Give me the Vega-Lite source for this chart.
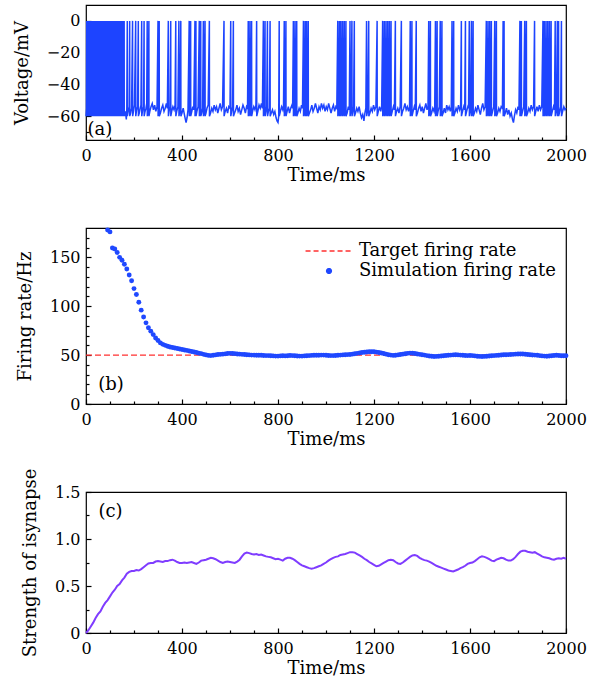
{
"$schema": "https://vega.github.io/schema/vega-lite/v6.json",
"padding": {"left": 12, "top": 4, "right": 5, "bottom": 5},
"bounds": "flush",
"spacing": 88,
"config": {
  "font": "DejaVu Serif",
  "view": {"stroke": "black", "strokeWidth": 1.2},
  "axis": {"grid": false, "domain": false, "labelFlush": false, "tickColor": "black", "tickWidth": 1.2, "labelFont": "DejaVu Serif", "labelFontSize": 16, "labelColor": "black", "titleFont": "DejaVu Serif", "titleFontSize": 18, "titleFontWeight": "normal", "titleColor": "black"},
  "axisX": {"labelPadding": 12, "titlePadding": 3},
  "axisY": {"labelPadding": 11, "titlePadding": 15},
  "text": {"font": "DejaVu Serif", "fontSize": 18, "color": "black"}
},
"datasets": {
"volt": [
{"t":0,"v":-60},{"t":2,"v":-55},{"t":3,"v":0},{"t":3.4,"v":-60},{"t":8,"v":-54},{"t":9,"v":0},{"t":9.4,"v":-60},{"t":14,"v":-55},{"t":15,"v":0},{"t":15.4,"v":-60},{"t":20,"v":-53},{"t":21,"v":0},{"t":21.4,"v":-60},{"t":26,"v":-55},{"t":27,"v":0},{"t":27.4,"v":-60},{"t":32,"v":-54},{"t":33,"v":0},{"t":33.4,"v":-60},{"t":38,"v":-56},{"t":39,"v":0},{"t":39.4,"v":-60},{"t":44,"v":-54},{"t":45,"v":0},{"t":45.4,"v":-60},{"t":50,"v":-55},{"t":51,"v":0},{"t":51.4,"v":-60},{"t":56,"v":-53},{"t":57,"v":0},{"t":57.4,"v":-60},{"t":62,"v":-55},{"t":63,"v":0},{"t":63.4,"v":-60},{"t":68,"v":-54},{"t":69,"v":0},{"t":69.4,"v":-60},{"t":74,"v":-56},{"t":75,"v":0},{"t":75.4,"v":-60},{"t":80,"v":-54},{"t":81,"v":0},{"t":81.4,"v":-60},{"t":86,"v":-55},{"t":87,"v":0},{"t":87.4,"v":-60},{"t":92,"v":-53},{"t":93,"v":0},{"t":93.4,"v":-60},{"t":98,"v":-55},{"t":99,"v":0},{"t":99.4,"v":-60},{"t":104,"v":-54},{"t":105,"v":0},{"t":105.4,"v":-60},{"t":110,"v":-56},{"t":111,"v":0},{"t":111.4,"v":-60},{"t":116,"v":-54},{"t":117,"v":0},{"t":117.4,"v":-60},{"t":122,"v":-55},{"t":123,"v":0},{"t":123.4,"v":-60},{"t":128,"v":-53},{"t":129,"v":0},{"t":129.4,"v":-60},{"t":134,"v":-55},{"t":135,"v":0},{"t":135.4,"v":-60},{"t":140,"v":-54},{"t":141,"v":0},{"t":141.4,"v":-60},{"t":146,"v":-56},{"t":147,"v":0},{"t":147.4,"v":-60},{"t":152,"v":-54},{"t":153,"v":0},{"t":153.4,"v":-60},{"t":158,"v":-55},{"t":159,"v":0},{"t":159.4,"v":-60},
{"t":164,"v":-57},{"t":168,"v":-62},{"t":170,"v":-55},{"t":172,"v":0},{"t":172.4,"v":-60},{"t":176,"v":-57},{"t":180,"v":-54},{"t":182,"v":0},{"t":182.4,"v":-60},{"t":186,"v":-58},{"t":190,"v":-55},{"t":194,"v":0},{"t":194.4,"v":-60},{"t":198,"v":-57},{"t":202,"v":-53},{"t":207,"v":0},{"t":207.4,"v":-60},{"t":211,"v":-56},{"t":215,"v":-54},{"t":218,"v":0},{"t":218.4,"v":-60},{"t":222,"v":-58},{"t":226,"v":-55},{"t":229,"v":-53},{"t":232,"v":0},{"t":232.4,"v":-60},{"t":236,"v":-56},{"t":240,"v":-54},{"t":242,"v":0},{"t":242.4,"v":-60},{"t":246,"v":-57},{"t":250,"v":-55},{"t":253,"v":-52},{"t":255,"v":0},{"t":255.4,"v":-60},{"t":259,"v":-55},{"t":262,"v":0},{"t":262.4,"v":-60},
{"t":266,"v":-57},{"t":271,"v":-54},{"t":276,"v":-52},{"t":281,"v":-56},{"t":286,"v":-53},{"t":291,"v":-57},{"t":296,"v":-54},{"t":300,"v":0},{"t":300.4,"v":-60},{"t":303,"v":-56},{"t":305,"v":0},{"t":305.4,"v":-60},{"t":310,"v":-58},{"t":315,"v":-55},{"t":320,"v":-53},{"t":325,"v":-57},{"t":330,"v":-55},{"t":335,"v":-52},{"t":339,"v":-55},{"t":343,"v":0},{"t":343.4,"v":-60},{"t":347,"v":-56},{"t":350,"v":-54},{"t":353,"v":0},{"t":353.4,"v":-60},{"t":357,"v":-57},{"t":362,"v":-54},{"t":367,"v":-56},{"t":371,"v":-53},{"t":374,"v":0},{"t":374.4,"v":-60},{"t":378,"v":-57},{"t":383,"v":-54},{"t":387,"v":0},{"t":387.4,"v":-60},{"t":391,"v":-56},{"t":395,"v":0},{"t":395.4,"v":-60},
{"t":400,"v":-58},{"t":405,"v":-55},{"t":410,"v":-59},{"t":414,"v":-62},{"t":417,"v":-64},{"t":421,"v":-61},{"t":425,"v":-56},{"t":430,"v":0},{"t":430.4,"v":-60},{"t":433,"v":-56},{"t":436,"v":0},{"t":436.4,"v":-60},{"t":441,"v":-57},{"t":445,"v":-54},{"t":449,"v":-56},{"t":454,"v":0},{"t":454.4,"v":-60},{"t":456,"v":-56},{"t":458,"v":0},{"t":458.4,"v":-60},{"t":462,"v":-57},{"t":467,"v":-54},{"t":472,"v":0},{"t":472.4,"v":-60},{"t":475,"v":-56},{"t":478,"v":0},{"t":478.4,"v":-60},{"t":482,"v":-58},{"t":486,"v":-55},{"t":489,"v":0},{"t":489.4,"v":-60},{"t":492,"v":-56},{"t":496,"v":0},{"t":496.4,"v":-60},{"t":500,"v":-58},{"t":504,"v":-55},{"t":509,"v":-53},{"t":514,"v":0},{"t":514.4,"v":-60},
{"t":519,"v":-58},{"t":524,"v":-55},{"t":529,"v":-57},{"t":534,"v":-53},{"t":539,"v":-56},{"t":544,"v":-54},{"t":549,"v":-58},{"t":554,"v":-55},{"t":559,"v":-52},{"t":564,"v":-56},{"t":569,"v":-54},{"t":575,"v":0},{"t":575.4,"v":-60},{"t":580,"v":-57},{"t":585,"v":-55},{"t":590,"v":-58},{"t":595,"v":-54},{"t":600,"v":-55},{"t":603,"v":0},{"t":603.4,"v":-60},{"t":607,"v":-57},{"t":611,"v":-54},{"t":614,"v":0},{"t":614.4,"v":-60},
{"t":619,"v":-58},{"t":624,"v":-56},{"t":629,"v":-53},{"t":634,"v":-57},{"t":639,"v":-55},{"t":644,"v":-59},{"t":649,"v":-56},{"t":654,"v":-53},{"t":659,"v":-55},{"t":664,"v":-58},{"t":669,"v":-54},{"t":673,"v":-55},{"t":676,"v":0},{"t":676.4,"v":-60},{"t":680,"v":-56},{"t":683,"v":0},{"t":683.4,"v":-60},{"t":687,"v":-56},{"t":690,"v":0},{"t":690.4,"v":-60},{"t":694,"v":-57},{"t":699,"v":-54},{"t":704,"v":-56},{"t":708,"v":-53},{"t":711,"v":0},{"t":711.4,"v":-60},{"t":716,"v":-57},{"t":721,"v":-53},{"t":726,"v":-55},{"t":731,"v":-52},{"t":735,"v":-55},{"t":739,"v":0},{"t":739.4,"v":-60},{"t":743,"v":-56},{"t":746,"v":0},{"t":746.4,"v":-60},{"t":750,"v":-57},{"t":753,"v":-54},{"t":756,"v":0},{"t":756.4,"v":-60},{"t":760,"v":-57},{"t":764,"v":-55},{"t":767,"v":0},{"t":767.4,"v":-60},
{"t":772,"v":-58},{"t":777,"v":-56},{"t":782,"v":-59},{"t":787,"v":-57},{"t":792,"v":-61},{"t":796,"v":-63},{"t":800,"v":-64},{"t":803,"v":-60},{"t":805,"v":0},{"t":805.4,"v":-60},{"t":810,"v":-57},{"t":815,"v":-54},{"t":820,"v":-56},{"t":823,"v":-53},{"t":826,"v":0},{"t":826.4,"v":-60},{"t":830,"v":-56},{"t":833,"v":0},{"t":833.4,"v":-60},{"t":838,"v":-57},{"t":843,"v":-54},{"t":848,"v":-58},{"t":853,"v":-55},{"t":858,"v":-53},{"t":861,"v":-55},{"t":864,"v":0},{"t":864.4,"v":-60},{"t":868,"v":-56},{"t":871,"v":0},{"t":871.4,"v":-60},{"t":875,"v":-56},{"t":878,"v":0},{"t":878.4,"v":-60},{"t":883,"v":-58},{"t":888,"v":-55},{"t":893,"v":-57},{"t":898,"v":-53},{"t":902,"v":-55},{"t":906,"v":0},{"t":906.4,"v":-60},{"t":910,"v":-56},{"t":913,"v":0},{"t":913.4,"v":-60},{"t":916,"v":-57},{"t":919,"v":0},{"t":919.4,"v":-60},{"t":923,"v":-56},{"t":926,"v":0},{"t":926.4,"v":-60},
{"t":931,"v":-58},{"t":936,"v":-56},{"t":941,"v":-53},{"t":946,"v":-57},{"t":951,"v":-55},{"t":956,"v":-52},{"t":961,"v":-55},{"t":966,"v":-58},{"t":971,"v":-54},{"t":976,"v":-56},{"t":981,"v":-52},{"t":986,"v":-55},{"t":991,"v":-53},{"t":996,"v":-57},{"t":1001,"v":-54},{"t":1006,"v":-56},{"t":1011,"v":-52},{"t":1016,"v":-55},{"t":1021,"v":-58},{"t":1026,"v":-55},{"t":1031,"v":-53},{"t":1036,"v":-57},{"t":1041,"v":-54},{"t":1045,"v":-55},{"t":1049,"v":0},{"t":1049.4,"v":-60},
{"t":1053,"v":-56},{"t":1056,"v":0},{"t":1056.4,"v":-60},{"t":1059,"v":-56},{"t":1062,"v":0},{"t":1062.4,"v":-60},{"t":1066,"v":-56},{"t":1069,"v":0},{"t":1069.4,"v":-60},{"t":1073,"v":-56},{"t":1076,"v":0},{"t":1076.4,"v":-60},{"t":1080,"v":-56},{"t":1083,"v":0},{"t":1083.4,"v":-60},{"t":1088,"v":-58},{"t":1093,"v":-54},{"t":1097,"v":-56},{"t":1100,"v":0},{"t":1100.4,"v":-60},{"t":1104,"v":-56},{"t":1108,"v":0},{"t":1108.4,"v":-60},{"t":1112,"v":-57},{"t":1115,"v":-54},{"t":1118,"v":0},{"t":1118.4,"v":-60},
{"t":1123,"v":-58},{"t":1128,"v":-55},{"t":1133,"v":-57},{"t":1138,"v":-54},{"t":1143,"v":-58},{"t":1148,"v":-61},{"t":1153,"v":-59},{"t":1158,"v":-63},{"t":1162,"v":-58},{"t":1166,"v":-55},{"t":1169,"v":0},{"t":1169.4,"v":-60},{"t":1174,"v":-56},{"t":1178,"v":0},{"t":1178.4,"v":-60},{"t":1183,"v":-58},{"t":1188,"v":-55},{"t":1193,"v":-57},{"t":1198,"v":-53},{"t":1203,"v":-56},{"t":1208,"v":-54},{"t":1213,"v":0},{"t":1213.4,"v":-60},{"t":1218,"v":-57},{"t":1223,"v":-54},{"t":1228,"v":-57},{"t":1232,"v":-54},{"t":1236,"v":0},{"t":1236.4,"v":-60},{"t":1240,"v":-56},{"t":1243,"v":0},{"t":1243.4,"v":-60},{"t":1247,"v":-56},{"t":1250,"v":0},{"t":1250.4,"v":-60},{"t":1254,"v":-56},{"t":1257,"v":0},{"t":1257.4,"v":-60},{"t":1261,"v":-56},{"t":1264,"v":0},{"t":1264.4,"v":-60},{"t":1268,"v":-56},{"t":1271,"v":0},{"t":1271.4,"v":-60},{"t":1276,"v":-57},{"t":1281,"v":-54},{"t":1285,"v":-56},{"t":1289,"v":0},{"t":1289.4,"v":-60},{"t":1294,"v":-57},{"t":1299,"v":-55},{"t":1304,"v":-58},{"t":1309,"v":-54},{"t":1314,"v":0},{"t":1314.4,"v":-60},
{"t":1319,"v":-57},{"t":1324,"v":-55},{"t":1329,"v":-52},{"t":1334,"v":-56},{"t":1339,"v":-54},{"t":1344,"v":-57},{"t":1348,"v":-54},{"t":1351,"v":0},{"t":1351.4,"v":-60},{"t":1355,"v":-56},{"t":1358,"v":0},{"t":1358.4,"v":-60},{"t":1363,"v":-57},{"t":1368,"v":-54},{"t":1372,"v":-56},{"t":1376,"v":0},{"t":1376.4,"v":-60},{"t":1381,"v":-58},{"t":1386,"v":-55},{"t":1391,"v":-53},{"t":1396,"v":-57},{"t":1401,"v":-54},{"t":1406,"v":-58},{"t":1411,"v":-55},{"t":1416,"v":-52},{"t":1421,"v":-56},{"t":1425,"v":-54},{"t":1428,"v":0},{"t":1428.4,"v":-60},{"t":1432,"v":-56},{"t":1435,"v":0},{"t":1435.4,"v":-60},{"t":1440,"v":-58},{"t":1445,"v":-55},{"t":1450,"v":-57},{"t":1453,"v":-54},{"t":1456,"v":0},{"t":1456.4,"v":-60},{"t":1460,"v":-56},{"t":1463,"v":0},{"t":1463.4,"v":-60},{"t":1467,"v":-57},{"t":1472,"v":-54},{"t":1476,"v":0},{"t":1476.4,"v":-60},{"t":1480,"v":-56},{"t":1483,"v":0},{"t":1483.4,"v":-60},
{"t":1488,"v":-58},{"t":1493,"v":-55},{"t":1498,"v":-58},{"t":1503,"v":-53},{"t":1508,"v":-56},{"t":1513,"v":-54},{"t":1518,"v":-57},{"t":1522,"v":-54},{"t":1525,"v":0},{"t":1525.4,"v":-60},{"t":1529,"v":-56},{"t":1532,"v":0},{"t":1532.4,"v":-60},{"t":1537,"v":-58},{"t":1542,"v":-55},{"t":1547,"v":-57},{"t":1552,"v":-53},{"t":1557,"v":-56},{"t":1561,"v":-54},{"t":1564,"v":0},{"t":1564.4,"v":-60},{"t":1569,"v":-57},{"t":1574,"v":-54},{"t":1578,"v":-56},{"t":1581,"v":0},{"t":1581.4,"v":-60},{"t":1586,"v":-57},{"t":1591,"v":-54},{"t":1594,"v":-55},{"t":1597,"v":0},{"t":1597.4,"v":-60},{"t":1602,"v":-56},{"t":1606,"v":0},{"t":1606.4,"v":-60},{"t":1610,"v":-56},{"t":1613,"v":0},{"t":1613.4,"v":-60},
{"t":1618,"v":-58},{"t":1623,"v":-55},{"t":1628,"v":-57},{"t":1633,"v":-53},{"t":1638,"v":-56},{"t":1643,"v":-59},{"t":1648,"v":-55},{"t":1653,"v":-52},{"t":1658,"v":-56},{"t":1663,"v":-54},{"t":1668,"v":0},{"t":1668.4,"v":-60},{"t":1672,"v":-56},{"t":1675,"v":0},{"t":1675.4,"v":-60},{"t":1679,"v":-56},{"t":1682,"v":0},{"t":1682.4,"v":-60},{"t":1686,"v":-56},{"t":1689,"v":0},{"t":1689.4,"v":-60},{"t":1694,"v":-57},{"t":1699,"v":-54},{"t":1703,"v":0},{"t":1703.4,"v":-60},{"t":1707,"v":-56},{"t":1710,"v":0},{"t":1710.4,"v":-60},{"t":1715,"v":-58},{"t":1720,"v":-55},{"t":1725,"v":-57},{"t":1730,"v":-54},{"t":1735,"v":-55},{"t":1738,"v":0},{"t":1738.4,"v":-60},{"t":1740,"v":-57},{"t":1742,"v":0},{"t":1742.4,"v":-60},
{"t":1747,"v":-58},{"t":1752,"v":-55},{"t":1757,"v":-59},{"t":1762,"v":-56},{"t":1767,"v":-60},{"t":1772,"v":-58},{"t":1777,"v":-62},{"t":1781,"v":-64},{"t":1785,"v":-60},{"t":1790,"v":-56},{"t":1795,"v":-58},{"t":1800,"v":-54},{"t":1804,"v":-56},{"t":1808,"v":0},{"t":1808.4,"v":-60},{"t":1811,"v":-56},{"t":1814,"v":0},{"t":1814.4,"v":-60},{"t":1819,"v":-57},{"t":1824,"v":-54},{"t":1828,"v":0},{"t":1828.4,"v":-60},{"t":1831,"v":-56},{"t":1835,"v":0},{"t":1835.4,"v":-60},{"t":1840,"v":-58},{"t":1845,"v":-55},{"t":1850,"v":-57},{"t":1855,"v":-53},{"t":1860,"v":-56},{"t":1865,"v":-54},{"t":1869,"v":0},{"t":1869.4,"v":-60},{"t":1874,"v":-57},{"t":1879,"v":-54},{"t":1884,"v":-57},{"t":1889,"v":-53},{"t":1894,"v":-56},{"t":1899,"v":-54},{"t":1904,"v":0},{"t":1904.4,"v":-60},
{"t":1907,"v":-56},{"t":1910,"v":0},{"t":1910.4,"v":-60},{"t":1914,"v":-56},{"t":1917,"v":0},{"t":1917.4,"v":-60},{"t":1921,"v":-56},{"t":1924,"v":0},{"t":1924.4,"v":-60},{"t":1928,"v":-56},{"t":1931,"v":0},{"t":1931.4,"v":-60},{"t":1935,"v":-56},{"t":1938,"v":0},{"t":1938.4,"v":-60},{"t":1943,"v":-57},{"t":1948,"v":-54},{"t":1952,"v":-56},{"t":1955,"v":0},{"t":1955.4,"v":-60},{"t":1960,"v":-56},{"t":1964,"v":0},{"t":1964.4,"v":-60},{"t":1967,"v":-56},{"t":1969,"v":0},{"t":1969.4,"v":-60},{"t":1974,"v":-57},{"t":1978,"v":-54},{"t":1981,"v":0},{"t":1981.4,"v":-60},{"t":1986,"v":-57},{"t":1991,"v":-54},{"t":1996,"v":-56},{"t":2000,"v":-55}
],
"rate": [
{"t":90,"r":178},{"t":100,"r":176},{"t":110,"r":159.5},{"t":120,"r":158.5},{"t":130,"r":155},{"t":140,"r":150},{"t":150,"r":147},{"t":160,"r":143},{"t":170,"r":138},{"t":180,"r":132},{"t":190,"r":126},{"t":200,"r":118},{"t":210,"r":112},{"t":220,"r":104},{"t":230,"r":96},{"t":240,"r":89},{"t":250,"r":83},{"t":260,"r":78},{"t":270,"r":74.5},{"t":280,"r":71},{"t":290,"r":67.5},{"t":300,"r":65},{"t":310,"r":62.5},{"t":320,"r":61},{"t":330,"r":60},{"t":340,"r":59},{"t":350,"r":58.3},{"t":360,"r":57.8},{"t":370,"r":57.3},{"t":380,"r":56.8},{"t":390,"r":56.3},{"t":400,"r":55.8},{"t":410,"r":55.3},{"t":420,"r":54.8},{"t":430,"r":54.2},{"t":440,"r":53.7},{"t":450,"r":53.2},{"t":460,"r":52.6},{"t":470,"r":52},{"t":480,"r":51.5},{"t":490,"r":50.8},{"t":500,"r":50.2},
{"t":510,"r":49.7},{"t":520,"r":49.5},{"t":530,"r":49.8},{"t":540,"r":50.2},{"t":550,"r":50.6},{"t":560,"r":50.8},{"t":570,"r":51},{"t":580,"r":51.3},{"t":590,"r":51.6},{"t":600,"r":51.8},{"t":610,"r":51.7},{"t":620,"r":51.5},{"t":630,"r":51.2},{"t":640,"r":51},{"t":650,"r":50.8},{"t":660,"r":50.6},{"t":670,"r":50.4},{"t":680,"r":50.2},{"t":690,"r":50},{"t":700,"r":50},{"t":710,"r":49.9},{"t":720,"r":49.8},{"t":730,"r":49.8},{"t":740,"r":49.6},{"t":750,"r":49.5},{"t":760,"r":49.5},{"t":770,"r":49.3},{"t":780,"r":49.2},{"t":790,"r":49},{"t":800,"r":49},{"t":810,"r":49.2},{"t":820,"r":49.3},{"t":830,"r":49.2},{"t":840,"r":49.4},{"t":850,"r":49.6},{"t":860,"r":49.5},{"t":870,"r":49.3},{"t":880,"r":49.1},{"t":890,"r":49},{"t":900,"r":49},
{"t":910,"r":49.2},{"t":920,"r":49.4},{"t":930,"r":49.5},{"t":940,"r":49.7},{"t":950,"r":49.8},{"t":960,"r":49.8},{"t":970,"r":49.9},{"t":980,"r":50},{"t":990,"r":50},{"t":1000,"r":49.8},{"t":1010,"r":49.6},{"t":1020,"r":49.5},{"t":1030,"r":49.5},{"t":1040,"r":49.6},{"t":1050,"r":49.8},{"t":1060,"r":50},{"t":1070,"r":50.2},{"t":1080,"r":50.4},{"t":1090,"r":50.5},{"t":1100,"r":50.7},{"t":1110,"r":51},{"t":1120,"r":51.4},{"t":1130,"r":51.8},{"t":1140,"r":52.2},{"t":1150,"r":52.6},{"t":1160,"r":52.9},{"t":1170,"r":53.2},{"t":1180,"r":53.4},{"t":1190,"r":53.5},{"t":1200,"r":53.4},{"t":1210,"r":53.1},{"t":1220,"r":52.7},{"t":1230,"r":52.2},{"t":1240,"r":51.6},{"t":1250,"r":51},{"t":1260,"r":50.4},{"t":1270,"r":50},{"t":1280,"r":49.7},{"t":1290,"r":49.8},{"t":1300,"r":50.2},
{"t":1310,"r":50.6},{"t":1320,"r":51},{"t":1330,"r":51.4},{"t":1340,"r":51.8},{"t":1350,"r":52},{"t":1360,"r":51.9},{"t":1370,"r":51.6},{"t":1380,"r":51.2},{"t":1390,"r":50.8},{"t":1400,"r":50.4},{"t":1410,"r":50},{"t":1420,"r":49.5},{"t":1430,"r":49.1},{"t":1440,"r":48.8},{"t":1450,"r":48.6},{"t":1460,"r":48.7},{"t":1470,"r":48.9},{"t":1480,"r":49.1},{"t":1490,"r":49.4},{"t":1500,"r":49.6},{"t":1510,"r":49.8},{"t":1520,"r":50},{"t":1530,"r":50.2},{"t":1540,"r":50.3},{"t":1550,"r":50.2},{"t":1560,"r":50},{"t":1570,"r":49.8},{"t":1580,"r":49.6},{"t":1590,"r":49.5},{"t":1600,"r":49.6},{"t":1610,"r":49.5},{"t":1620,"r":49.2},{"t":1630,"r":48.9},{"t":1640,"r":48.7},{"t":1650,"r":48.6},{"t":1660,"r":48.7},{"t":1670,"r":48.9},{"t":1680,"r":49.1},{"t":1690,"r":49.3},{"t":1700,"r":49.5},
{"t":1710,"r":49.7},{"t":1720,"r":49.9},{"t":1730,"r":50.1},{"t":1740,"r":50.3},{"t":1750,"r":50.4},{"t":1760,"r":50.5},{"t":1770,"r":50.6},{"t":1780,"r":50.8},{"t":1790,"r":51},{"t":1800,"r":51.1},{"t":1810,"r":51.2},{"t":1820,"r":51.1},{"t":1830,"r":50.9},{"t":1840,"r":50.6},{"t":1850,"r":50.3},{"t":1860,"r":50.1},{"t":1870,"r":50},{"t":1880,"r":49.8},{"t":1890,"r":49.5},{"t":1900,"r":49.2},{"t":1910,"r":49},{"t":1920,"r":48.9},{"t":1930,"r":49.1},{"t":1940,"r":49.4},{"t":1950,"r":49.6},{"t":1960,"r":49.8},{"t":1970,"r":49.6},{"t":1980,"r":49.4},{"t":1990,"r":49.3},{"t":2000,"r":49.4}
],
"strength": [
{"t":0,"w":0},{"t":10,"w":0.03},{"t":20,"w":0.07},{"t":30,"w":0.11},{"t":40,"w":0.16},{"t":50,"w":0.2},{"t":60,"w":0.23},{"t":70,"w":0.28},{"t":80,"w":0.32},{"t":90,"w":0.35},{"t":100,"w":0.39},{"t":110,"w":0.43},{"t":120,"w":0.46},{"t":130,"w":0.5},{"t":140,"w":0.52},{"t":150,"w":0.56},{"t":160,"w":0.59},{"t":170,"w":0.63},{"t":180,"w":0.65},{"t":190,"w":0.66},{"t":200,"w":0.66},{"t":210,"w":0.67},{"t":220,"w":0.665},{"t":230,"w":0.68},{"t":240,"w":0.7},{"t":250,"w":0.72},{"t":260,"w":0.74},{"t":270,"w":0.745},{"t":280,"w":0.745},{"t":290,"w":0.76},{"t":300,"w":0.765},{"t":310,"w":0.76},{"t":320,"w":0.755},{"t":330,"w":0.765},{"t":340,"w":0.765},{"t":350,"w":0.775},{"t":360,"w":0.78},{"t":370,"w":0.77},{"t":380,"w":0.755},{"t":390,"w":0.745},{"t":400,"w":0.745},
{"t":410,"w":0.75},{"t":420,"w":0.745},{"t":430,"w":0.75},{"t":440,"w":0.755},{"t":450,"w":0.745},{"t":460,"w":0.735},{"t":470,"w":0.75},{"t":480,"w":0.77},{"t":490,"w":0.775},{"t":500,"w":0.78},{"t":510,"w":0.79},{"t":520,"w":0.8},{"t":530,"w":0.795},{"t":540,"w":0.785},{"t":550,"w":0.77},{"t":560,"w":0.755},{"t":570,"w":0.745},{"t":580,"w":0.755},{"t":590,"w":0.76},{"t":600,"w":0.755},{"t":610,"w":0.75},{"t":620,"w":0.745},{"t":630,"w":0.76},{"t":640,"w":0.78},{"t":650,"w":0.815},{"t":660,"w":0.845},{"t":670,"w":0.855},{"t":680,"w":0.85},{"t":690,"w":0.84},{"t":700,"w":0.835},{"t":710,"w":0.84},{"t":720,"w":0.83},{"t":730,"w":0.835},{"t":740,"w":0.825},{"t":750,"w":0.815},{"t":760,"w":0.81},{"t":770,"w":0.805},{"t":780,"w":0.795},{"t":790,"w":0.785},{"t":800,"w":0.79},
{"t":810,"w":0.78},{"t":820,"w":0.77},{"t":830,"w":0.79},{"t":840,"w":0.8},{"t":850,"w":0.8},{"t":860,"w":0.79},{"t":870,"w":0.775},{"t":880,"w":0.755},{"t":890,"w":0.735},{"t":900,"w":0.72},{"t":910,"w":0.71},{"t":920,"w":0.7},{"t":930,"w":0.69},{"t":940,"w":0.685},{"t":950,"w":0.69},{"t":960,"w":0.7},{"t":970,"w":0.71},{"t":980,"w":0.72},{"t":990,"w":0.735},{"t":1000,"w":0.75},{"t":1010,"w":0.77},{"t":1020,"w":0.785},{"t":1030,"w":0.8},{"t":1040,"w":0.81},{"t":1050,"w":0.815},{"t":1060,"w":0.83},{"t":1070,"w":0.835},{"t":1080,"w":0.84},{"t":1090,"w":0.85},{"t":1100,"w":0.86},{"t":1110,"w":0.86},{"t":1120,"w":0.855},{"t":1130,"w":0.84},{"t":1140,"w":0.825},{"t":1150,"w":0.81},{"t":1160,"w":0.79},{"t":1170,"w":0.775},{"t":1180,"w":0.755},{"t":1190,"w":0.74},{"t":1200,"w":0.725},
{"t":1210,"w":0.71},{"t":1220,"w":0.715},{"t":1230,"w":0.73},{"t":1240,"w":0.745},{"t":1250,"w":0.76},{"t":1260,"w":0.775},{"t":1270,"w":0.78},{"t":1280,"w":0.775},{"t":1290,"w":0.755},{"t":1300,"w":0.74},{"t":1310,"w":0.735},{"t":1320,"w":0.75},{"t":1330,"w":0.77},{"t":1340,"w":0.79},{"t":1350,"w":0.81},{"t":1360,"w":0.825},{"t":1370,"w":0.83},{"t":1380,"w":0.82},{"t":1390,"w":0.8},{"t":1400,"w":0.785},{"t":1410,"w":0.775},{"t":1420,"w":0.77},{"t":1430,"w":0.76},{"t":1440,"w":0.745},{"t":1450,"w":0.73},{"t":1460,"w":0.715},{"t":1470,"w":0.705},{"t":1480,"w":0.695},{"t":1490,"w":0.685},{"t":1500,"w":0.675},{"t":1510,"w":0.665},{"t":1520,"w":0.66},{"t":1530,"w":0.655},{"t":1540,"w":0.665},{"t":1550,"w":0.675},{"t":1560,"w":0.69},{"t":1570,"w":0.7},{"t":1580,"w":0.715},{"t":1590,"w":0.735},{"t":1600,"w":0.745},
{"t":1610,"w":0.75},{"t":1620,"w":0.765},{"t":1630,"w":0.785},{"t":1640,"w":0.805},{"t":1650,"w":0.815},{"t":1660,"w":0.81},{"t":1670,"w":0.8},{"t":1680,"w":0.785},{"t":1690,"w":0.77},{"t":1700,"w":0.765},{"t":1710,"w":0.78},{"t":1720,"w":0.79},{"t":1730,"w":0.8},{"t":1740,"w":0.795},{"t":1750,"w":0.78},{"t":1760,"w":0.77},{"t":1770,"w":0.77},{"t":1780,"w":0.785},{"t":1790,"w":0.81},{"t":1800,"w":0.84},{"t":1810,"w":0.865},{"t":1820,"w":0.875},{"t":1830,"w":0.875},{"t":1840,"w":0.865},{"t":1850,"w":0.86},{"t":1860,"w":0.855},{"t":1870,"w":0.86},{"t":1880,"w":0.845},{"t":1890,"w":0.83},{"t":1900,"w":0.815},{"t":1910,"w":0.805},{"t":1920,"w":0.8},{"t":1930,"w":0.795},{"t":1940,"w":0.785},{"t":1950,"w":0.78},{"t":1960,"w":0.79},{"t":1970,"w":0.795},{"t":1980,"w":0.79},{"t":1990,"w":0.8},{"t":2000,"w":0.79}
]
},
"vconcat": [
{
  "width": 480, "height": 135,
  "layer": [
    {"data": {"name": "volt"},
     "mark": {"type": "line", "color": "#1d44ff", "strokeWidth": 1.5},
     "encoding": {
       "x": {"field": "t", "type": "quantitative", "scale": {"domain": [0, 2000], "nice": false}, "axis": {"orient": "bottom", "values": [0, 400, 800, 1200, 1600, 2000], "format": "d", "tickSize": -5, "title": "Time/ms"}},
       "y": {"field": "v", "type": "quantitative", "scale": {"domain": [-75, 10], "nice": false, "zero": false}, "axis": {"orient": "left", "values": [-60, -40, -20, 0], "tickSize": -5, "title": "Voltage/mV"}}
     }},
    {"data": {"values": [{"t": 58, "v": -68.4, "lab": "(a)"}]},
     "mark": {"type": "text"},
     "encoding": {
       "x": {"field": "t", "type": "quantitative", "axis": {"orient": "bottom", "values": [100, 200, 300, 500, 600, 700, 900, 1000, 1100, 1300, 1400, 1500, 1700, 1800, 1900], "tickSize": -3, "labels": false, "title": null}},
       "y": {"field": "v", "type": "quantitative", "axis": {"orient": "left", "values": [-70, -50, -30, -10], "tickSize": -3, "labels": false, "title": null}},
       "text": {"field": "lab"}
     }}
  ],
  "resolve": {"axis": {"x": "independent", "y": "independent"}}
},
{
  "width": 480, "height": 176,
  "layer": [
    {"data": {"values": [{"t": 0, "r": 50, "s": "Target firing rate"}, {"t": 2000, "r": 50, "s": "Target firing rate"}]},
     "mark": {"type": "line", "strokeDash": [6, 3], "strokeWidth": 1.3},
     "encoding": {
       "x": {"field": "t", "type": "quantitative", "scale": {"domain": [0, 2000], "nice": false}, "axis": {"orient": "bottom", "values": [0, 400, 800, 1200, 1600, 2000], "format": "d", "tickSize": -5, "title": "Time/ms"}},
       "y": {"field": "r", "type": "quantitative", "scale": {"domain": [0, 180], "nice": false}, "axis": {"orient": "left", "values": [0, 50, 100, 150], "tickSize": -5, "title": "Firing rate/Hz"}},
       "color": {"field": "s", "type": "nominal", "scale": {"domain": ["Target firing rate", "Simulation firing rate"], "range": ["#ff3030", "#1f48ff"]},
                 "legend": {"orient": "none", "legendX": 234, "legendY": 237, "title": null, "labelFont": "DejaVu Serif", "labelFontSize": 18, "labelColor": "black", "labelLimit": 400, "symbolSize": 400, "labelOffset": 21, "rowPadding": 2, "padding": 0,
                   "encode": {"symbols": {"update": {
                     "shape": {"signal": "datum.value === 'Target firing rate' ? 'stroke' : 'circle'"},
                     "size": {"signal": "datum.value === 'Target firing rate' ? 2200 : 24"},
                     "strokeDash": {"signal": "datum.value === 'Target firing rate' ? [5, 3] : [1, 0]"},
                     "fill": {"signal": "datum.value === 'Target firing rate' ? 'transparent' : '#1f48ff'"},
                     "stroke": {"signal": "datum.value === 'Target firing rate' ? '#ff3030' : '#1f48ff'"},
                     "strokeWidth": {"value": 1.3},
                     "opacity": {"value": 1}
                   }}}}}
     }},
    {"data": {"name": "rate"},
     "transform": [{"calculate": "'Simulation firing rate'", "as": "s"}],
     "mark": {"type": "point", "filled": true, "size": 24, "opacity": 1},
     "encoding": {
       "x": {"field": "t", "type": "quantitative", "axis": null},
       "y": {"field": "r", "type": "quantitative", "axis": null},
       "color": {"field": "s", "type": "nominal"}
     }},
    {"data": {"values": [{"t": 104, "r": 19.6, "lab": "(b)"}]},
     "mark": {"type": "text"},
     "encoding": {
       "x": {"field": "t", "type": "quantitative", "axis": {"orient": "bottom", "values": [100, 200, 300, 500, 600, 700, 900, 1000, 1100, 1300, 1400, 1500, 1700, 1800, 1900], "tickSize": -3, "labels": false, "title": null}},
       "y": {"field": "r", "type": "quantitative", "axis": {"orient": "left", "values": [10, 20, 30, 40, 60, 70, 80, 90, 110, 120, 130, 140, 160, 170], "tickSize": -3, "labels": false, "title": null}},
       "text": {"field": "lab"}
     }}
  ],
  "resolve": {"axis": {"x": "independent", "y": "independent"}}
},
{
  "width": 480, "height": 141,
  "layer": [
    {"data": {"name": "strength"},
     "mark": {"type": "line", "color": "#7f3cff", "strokeWidth": 2},
     "encoding": {
       "x": {"field": "t", "type": "quantitative", "scale": {"domain": [0, 2000], "nice": false}, "axis": {"orient": "bottom", "values": [0, 400, 800, 1200, 1600, 2000], "format": "d", "tickSize": -5, "title": "Time/ms"}},
       "y": {"field": "w", "type": "quantitative", "scale": {"domain": [0, 1.5], "nice": false}, "axis": {"orient": "left", "values": [0, 0.5, 1, 1.5], "tickSize": -5, "labelExpr": "datum.value === 0 ? '0' : format(datum.value, '.1f')", "title": "Strength of isynapse"}}
     }},
    {"data": {"values": [{"t": 102, "w": 1.29, "lab": "(c)"}]},
     "mark": {"type": "text"},
     "encoding": {
       "x": {"field": "t", "type": "quantitative", "axis": {"orient": "bottom", "values": [100, 200, 300, 500, 600, 700, 900, 1000, 1100, 1300, 1400, 1500, 1700, 1800, 1900], "tickSize": -3, "labels": false, "title": null}},
       "y": {"field": "w", "type": "quantitative", "axis": {"orient": "left", "values": [0.25, 0.75, 1.25], "tickSize": -3, "labels": false, "title": null}},
       "text": {"field": "lab"}
     }}
  ],
  "resolve": {"axis": {"x": "independent", "y": "independent"}}
}
]
}
